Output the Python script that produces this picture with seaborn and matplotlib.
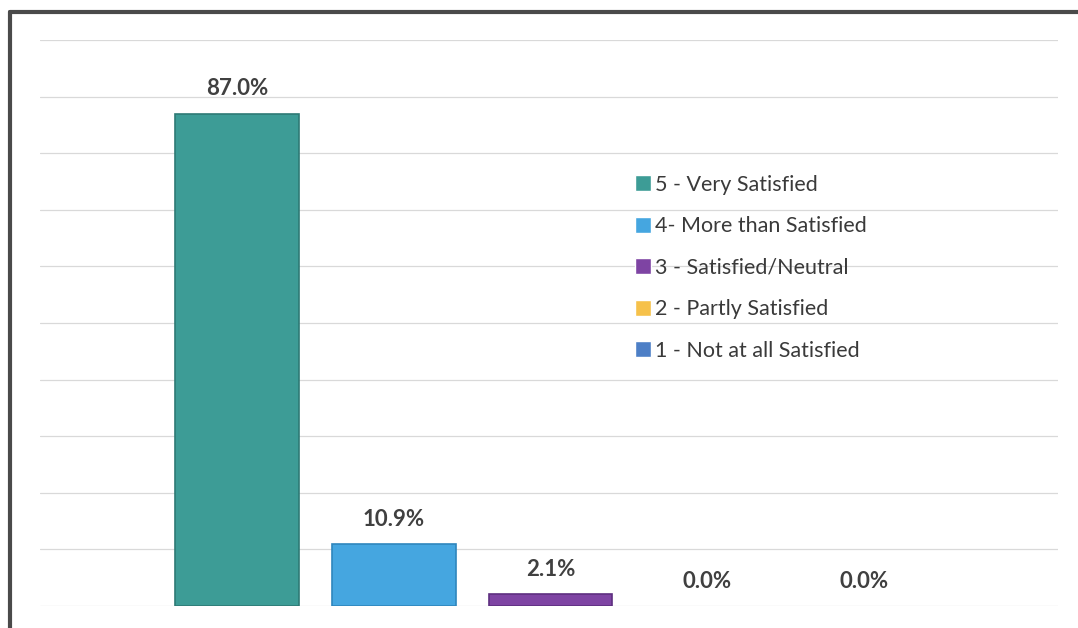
import pandas as pd
import seaborn as sns
import matplotlib.pyplot as plt
from matplotlib.lines import Line2D

# dados
categorias = ['5 - Very Satisfied', '4- More than Satisfied', '3 - Satisfied/Neutral',
              '2 - Partly Satisfied', '1 - Not at all Satisfied']
percentuais = [87.0, 10.9, 2.1, 0.0, 0.0]
cores = ['#3d9c96', '#45a6e0', '#7e44a3', '#f6c14a', '#4d7fc6']
bordas = ['#2e7a75', '#2f86bd', '#5e2f80', '#d9a330', '#3a63a0']

tabela = pd.DataFrame({'categoria': categorias, 'valor': percentuais})

sns.set_style('white')
plt.rcParams['font.family'] = ['Lato', 'DejaVu Sans']

fig = plt.figure(figsize=(10.78, 6.28), dpi=100)
ax = fig.add_axes([40 / 1078, 1 - 606 / 628, 1018 / 1078, 566 / 628])

sns.barplot(data=tabela, x='categoria', y='valor', hue='categoria',
            palette=cores, width=0.79, legend=True, ax=ax, saturation=1)

for barra, borda, v in zip(ax.patches, bordas, percentuais):
    if v > 0:
        barra.set_edgecolor(borda)
        barra.set_linewidth(1.2)
    else:
        barra.set_linewidth(0)

# rotulos de valor
for i, v in enumerate(percentuais):
    ax.annotate(f'{v:.1f}%', (i, v), xytext=(0, 18), textcoords='offset points',
                ha='center', va='center', fontsize=16, fontweight='bold', color='#404040')

ax.set_ylim(0, 100)
ax.set_xlim(-1.26, 5.24)
ax.set_yticks(range(0, 101, 10))
ax.yaxis.grid(True, color='#d9d9d9', linewidth=0.9)
ax.set_axisbelow(True)
ax.set_xticks([])
ax.set_yticklabels([])
ax.tick_params(left=False, bottom=False)
ax.set_xlabel('')
ax.set_ylabel('')
for lado in ax.spines.values():
    lado.set_visible(False)

leg = ax.legend(loc='upper left', bbox_to_anchor=(584 / 1018, (606 - 164) / 566),
                frameon=False, fontsize=15.5, labelspacing=1.0,
                handlelength=0.75, handleheight=0.75, handletextpad=0.2, borderpad=0)
for t in leg.get_texts():
    t.set_color('#3a3a3a')

# moldura (so esquerda e topo aparecem)
x0, y0 = 10 / 1078, 1 - 12 / 628
fig.lines.append(Line2D([x0, x0], [-0.1, y0], transform=fig.transFigure,
                        color='#4a4a4a', linewidth=3))
fig.lines.append(Line2D([x0, 1.1], [y0, y0], transform=fig.transFigure,
                        color='#4a4a4a', linewidth=3))

fig.savefig('out.png', dpi=100)
